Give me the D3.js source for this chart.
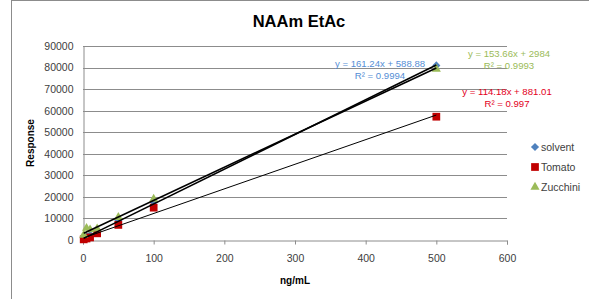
<!DOCTYPE html>
<html>
<head>
<meta charset="utf-8">
<script src="https://cdn.jsdelivr.net/npm/d3@7"></script>
<style>
  body { margin: 0; background: #fff; }
  text { font-family: "Liberation Sans", Arial, sans-serif; }
</style>
</head>
<body>
<div id="chart"></div>
<script>
// Data
const conc = [1, 5, 10, 20, 50, 100, 500];
const solvent = [900, 1700, 2400, 4000, 8900, 17500, 81000];
const tomato = [300, 700, 1200, 3100, 7000, 15000, 57200];
const zucchini = [2300, 5500, 4800, 5200, 10500, 19000, 79300];

const seriesNames = ["solvent", "Tomato", "Zucchini"];
const seriesColors = ["#4F81BD", "#C00000", "#9BBB59"];
const slopes = [161.24, 114.18, 153.66];
const intercepts = [588.88, 881.01, 2984];
const eqLabels = ["y = 161.24x + 588.88", "y = 114.18x + 881.01", "y = 153.66x + 2984"];
const r2Labels = ["R² = 0.9994", "R² = 0.997", "R² = 0.9993"];
const eqColors = ["#558ED5", "#E3001B", "#9BBB59"];

const xTicks = [0, 100, 200, 300, 400, 500, 600];
const yTicks = [0, 10000, 20000, 30000, 40000, 50000, 60000, 70000, 80000, 90000];

const W = 589, H = 299;
const svg = d3.select("#chart").append("svg")
    .attr("width", W)
    .attr("height", H);

// Chart border
svg.append("rect")
    .attr("x", 11.5).attr("y", 0.5)
    .attr("width", 600).attr("height", 320)
    .attr("fill", "none")
    .attr("stroke", "#8c8c8c");

const x = d3.scaleLinear().domain([0, 600]).range([83, 507]);
const y = d3.scaleLinear().domain([0, 90000]).range([240, 46]);

// Gridlines
svg.append("g")
    .selectAll("line")
    .data(yTicks.slice(1))
    .enter()
    .append("line")
    .attr("x1", x(0)).attr("x2", x(600))
    .attr("y1", d => Math.round(y(d)) + 0.5)
    .attr("y2", d => Math.round(y(d)) + 0.5)
    .attr("stroke", "#8c8c8c");

// Y axis
const yAxis = svg.append("g")
    .attr("transform", "translate(" + (x(0) + 0.5) + ",0)")
    .call(d3.axisLeft(y).tickValues(yTicks).tickSize(0).tickPadding(10).tickFormat(d3.format("d")));
yAxis.select(".domain").attr("stroke", "#8c8c8c");
yAxis.selectAll("text").attr("font-size", "10.5px").attr("fill", "#404040")
    .attr("font-family", "Liberation Sans, Arial, sans-serif");

// X axis
const xAxis = svg.append("g")
    .attr("transform", "translate(0," + (y(0) + 0.5) + ")")
    .call(d3.axisBottom(x).tickValues(xTicks).tickSize(4).tickPadding(10).tickFormat(d3.format("d")));
xAxis.select(".domain").attr("stroke", "#8c8c8c");
xAxis.selectAll(".tick line").attr("stroke", "#8c8c8c");
xAxis.selectAll("text").attr("font-size", "10.5px").attr("fill", "#404040")
    .attr("font-family", "Liberation Sans, Arial, sans-serif");

// Title and axis titles
svg.append("text")
    .attr("x", 299).attr("y", 27)
    .attr("text-anchor", "middle")
    .attr("font-size", "16.5px").attr("font-weight", "bold")
    .text("NAAm EtAc");

svg.append("text")
    .attr("x", 295).attr("y", 284)
    .attr("text-anchor", "middle")
    .attr("font-size", "10px").attr("font-weight", "bold")
    .text("ng/mL");

svg.append("text")
    .attr("transform", "translate(34,143) rotate(-90)")
    .attr("text-anchor", "middle")
    .attr("font-size", "10px").attr("font-weight", "bold")
    .text("Response");

// Markers
const allSeries = [solvent, tomato, zucchini];
const symbols = [d3.symbolDiamond2, d3.symbolSquare, d3.symbolTriangle];
const symSizes = [42, 60, 36];

allSeries.forEach((vals, i) => {
    svg.append("g")
        .selectAll("path")
        .data(vals.map((v, j) => ({ c: conc[j], v: v })))
        .enter()
        .append("path")
        .attr("transform", d => "translate(" + x(d.c) + "," + y(d.v) + ")")
        .attr("d", d3.symbol().type(symbols[i]).size(symSizes[i]))
        .attr("fill", seriesColors[i]);
});

// Linear trendlines
const lineWidths = [1.6, 1, 1.6];
slopes.forEach((m, i) => {
    const x0 = d3.min(conc), x1 = d3.max(conc);
    svg.append("line")
        .attr("x1", x(x0)).attr("y1", y(m * x0 + intercepts[i]))
        .attr("x2", x(x1)).attr("y2", y(m * x1 + intercepts[i]))
        .attr("stroke", "#000")
        .attr("stroke-width", lineWidths[i]);
});

// Equation labels
const eqPos = [[380, 67], [507, 95], [509, 57]];
eqLabels.forEach((t, i) => {
    const g = svg.append("g").attr("fill", eqColors[i]).attr("font-size", "9.6px");
    g.append("text").attr("x", eqPos[i][0]).attr("y", eqPos[i][1])
        .attr("text-anchor", "middle").text(t);
    g.append("text").attr("x", eqPos[i][0]).attr("y", eqPos[i][1] + 12)
        .attr("text-anchor", "middle").text(r2Labels[i]);
});

// Legend
const legend = svg.append("g");
seriesNames.forEach((name, i) => {
    const ly = 147 + i * 20;
    legend.append("path")
        .attr("transform", "translate(535," + ly + ")")
        .attr("d", d3.symbol().type(symbols[i]).size(symSizes[i]))
        .attr("fill", seriesColors[i]);
    legend.append("text")
        .attr("x", 541).attr("y", ly + 4)
        .attr("font-size", "10.5px").attr("fill", "#404040")
        .text(name);
});
</script>
</body>
</html>
